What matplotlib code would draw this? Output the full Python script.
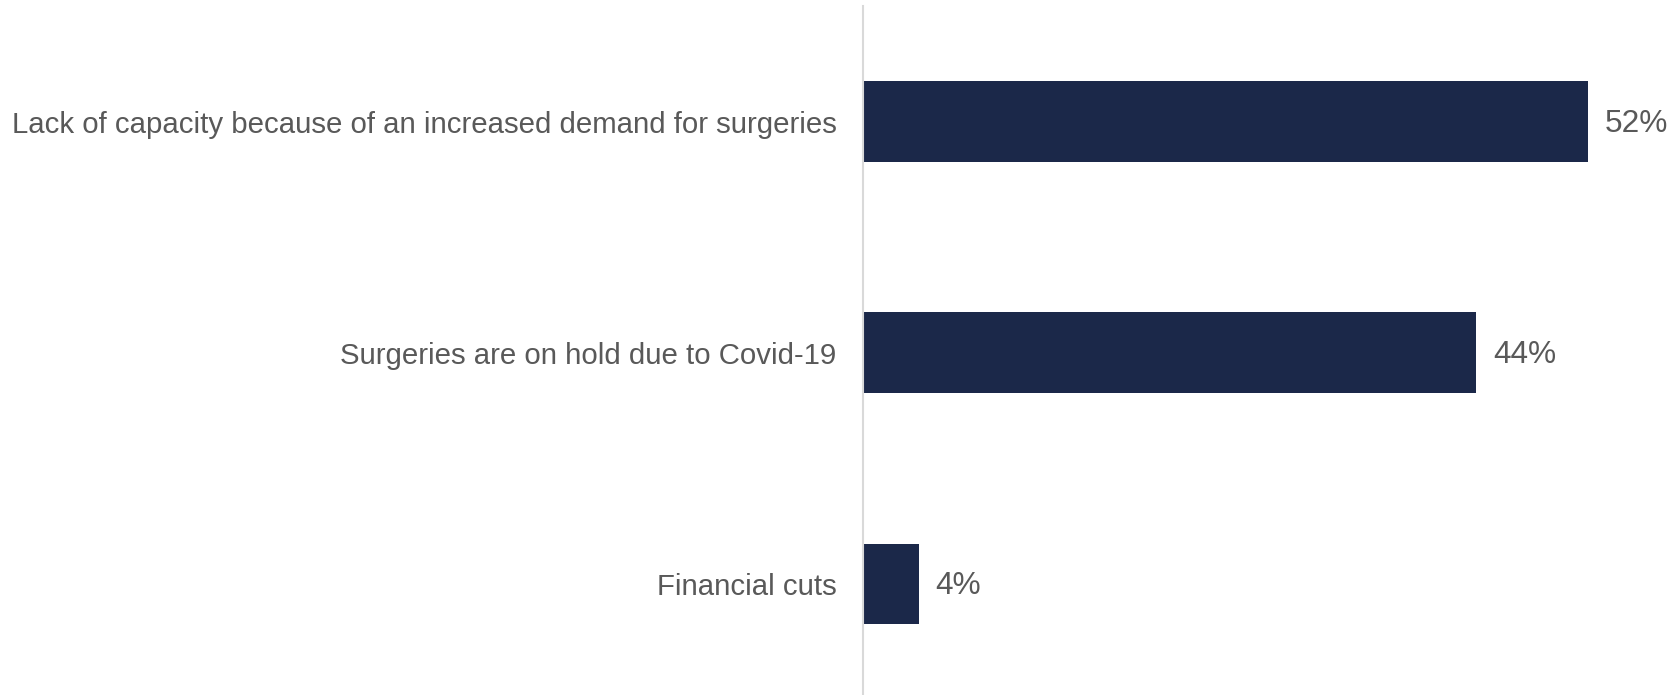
import matplotlib
matplotlib.use("Agg")
import matplotlib.pyplot as plt

# chart data
categories = ["Lack of capacity because of an increased demand for surgeries",
              "Surgeries are on hold due to Covid-19",
              "Financial cuts"]
values = [52, 44, 4]

bar_color = "#1B2849"
text_color = "#595959"

plt.rcParams['font.family'] = ['Liberation Sans', 'DejaVu Sans']

fig = plt.figure(figsize=(16.77, 6.95), dpi=100)
ax = fig.add_axes([863 / 1677, 0.0, 1 - 863 / 1677, 1 - 6 / 695])

ypos = list(range(len(categories)))
bars = ax.barh(ypos, values, height=0.35, color=bar_color)

ax.set_xlim(0, 58.4)
ax.set_ylim(2.48, -0.5)

for b, v in zip(bars, values):
    ax.text(b.get_width() + 1.2, b.get_y() + b.get_height() / 2 + 0.01, "%d%%" % v,
            va="center", ha="left", fontsize=22.8, color=text_color)

ax.set_yticks(ypos)
ax.set_yticklabels(categories, fontsize=21.2, color=text_color)
ax.tick_params(axis="y", length=0, pad=19)
ax.set_xticks([])

for s in ["top", "right", "bottom"]:
    ax.spines[s].set_visible(False)
ax.spines["left"].set_color("#D9D9D9")
ax.spines["left"].set_linewidth(1.5)

fig.savefig("out.png", dpi=100)
